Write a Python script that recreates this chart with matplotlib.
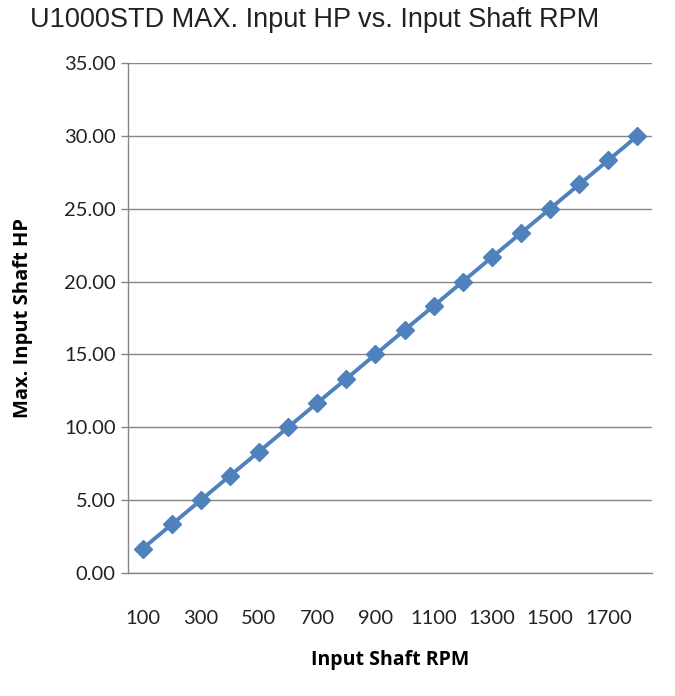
import numpy as np
import matplotlib.pyplot as plt

# Input shaft RPM (categories) and max input HP
rpm = [100, 200, 300, 400, 500, 600, 700, 800, 900,
       1000, 1100, 1200, 1300, 1400, 1500, 1600, 1700, 1800]
hp = [1.67, 3.33, 5.00, 6.67, 8.33, 10.00, 11.67, 13.33, 15.00,
      16.67, 18.33, 20.00, 21.67, 23.33, 25.00, 26.67, 28.33, 30.00]
yticks = [0, 5, 10, 15, 20, 25, 30, 35]

fig = plt.figure(figsize=(6.75, 6.96), dpi=100)
ax = fig.add_axes([128 / 675, 1 - 573 / 696, 524 / 675, 510 / 696])

x = np.arange(len(rpm))
ax.plot(x, hp, color="#4F81BD", lw=2.8, marker="D", ms=9.5,
        markeredgecolor="#4F81BD", clip_on=False, zorder=3)

ax.set_xlim(-0.5, len(rpm) - 0.5)
ax.set_ylim(0, 35)
ax.set_xticks(x[::2])
ax.set_xticklabels([str(r) for r in rpm[::2]], fontfamily="Lato", fontsize=14.5)
ax.set_yticks(yticks)
ax.set_yticklabels(["%.2f" % v for v in yticks], fontfamily="Lato", fontsize=14.5)
ax.tick_params(axis="x", length=0, pad=27, colors="#222222")
ax.tick_params(axis="y", length=5, width=1, color="#868686", pad=4, colors="#222222")
ax.yaxis.grid(True, color="#868686", lw=1)
ax.set_axisbelow(True)

for s in ["top", "right"]:
    ax.spines[s].set_visible(False)
for s in ["left", "bottom"]:
    ax.spines[s].set_color("#868686")
    ax.spines[s].set_linewidth(1)

ax.set_xlabel("Input Shaft RPM", fontfamily="Open Sans", fontweight="bold",
              fontsize=14, labelpad=16)
ax.set_ylabel("Max. Input Shaft HP", fontfamily="Open Sans", fontweight="bold",
              fontsize=14.5, labelpad=22)

fig.text(30 / 675, 1 - 20 / 696, "U1000STD MAX. Input HP vs. Input Shaft RPM",
         fontfamily="Liberation Sans", fontsize=19.5, color="#222222",
         ha="left", va="center")

fig.savefig("out.png", dpi=100)
